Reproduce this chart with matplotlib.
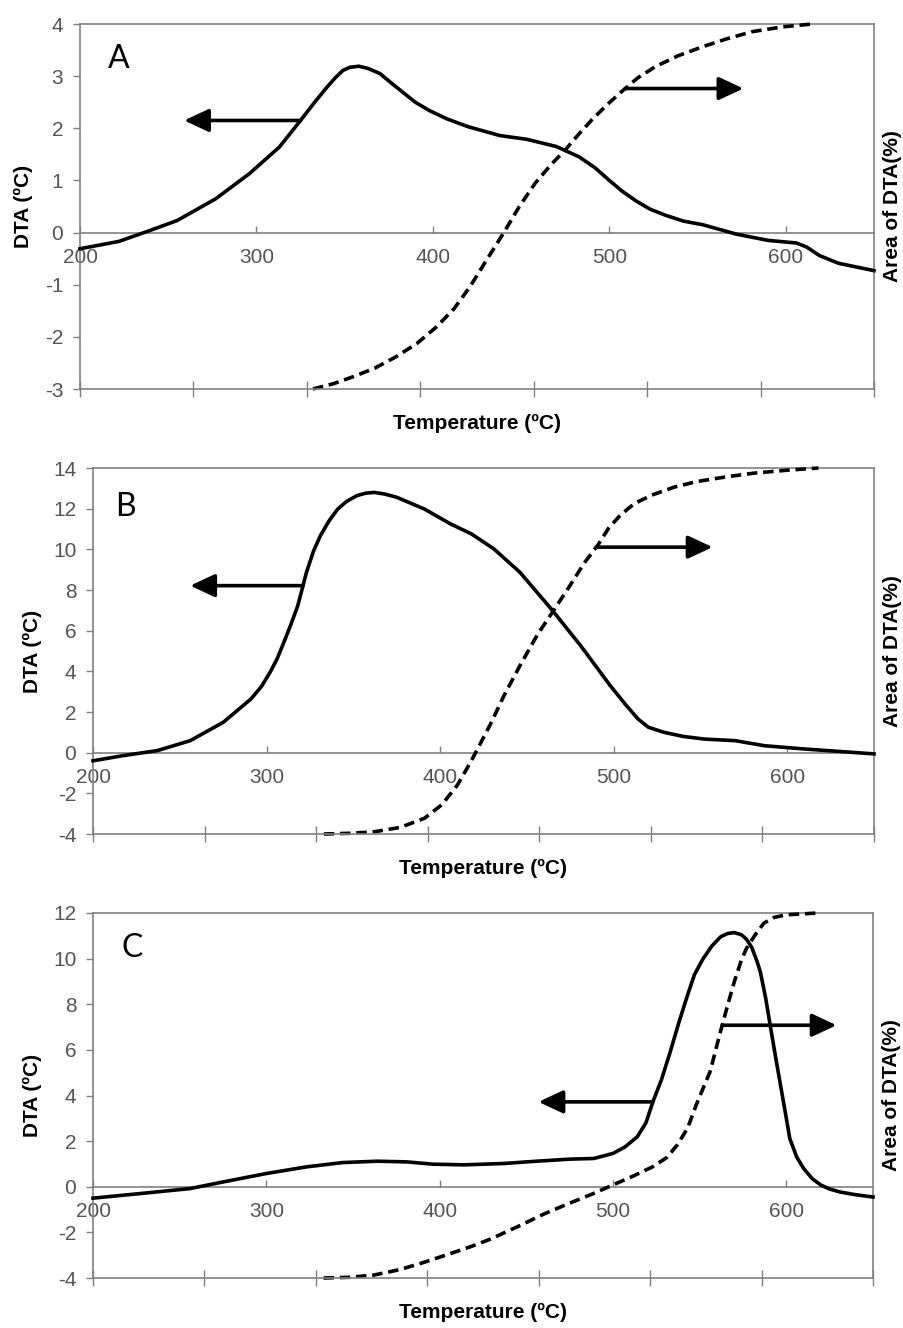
import numpy as np
import matplotlib
matplotlib.use("Agg")
import matplotlib.pyplot as plt

plt.rcParams['font.family'] = ['Liberation Sans', 'DejaVu Sans']
plt.rcParams['axes.unicode_minus'] = False

# =========================
# DATA
# =========================
# Panel A
temp_a = [200, 222, 238, 255, 277, 296, 313, 325, 333, 340, 345, 349, 353, 358, 363, 370, 376,
          383, 390, 398, 408, 420, 438, 453, 470, 483, 492, 500, 507, 515, 523, 532, 542, 553,
          572, 590, 606, 612, 619, 630, 650]
dta_a = [-0.31, -0.17, 0.02, 0.23, 0.65, 1.13, 1.64, 2.15, 2.50, 2.79, 2.98, 3.11, 3.17, 3.19, 3.15,
         3.05, 2.88, 2.69, 2.50, 2.34, 2.18, 2.03, 1.86, 1.79, 1.65, 1.45, 1.24, 1.00, 0.80, 0.61,
         0.45, 0.33, 0.22, 0.15, -0.03, -0.15, -0.20, -0.28, -0.44, -0.59, -0.73]
area_temp_a = [332, 344, 355, 367, 379, 391, 402, 412, 421, 430, 440, 449, 458, 467, 475, 483,
               490, 499, 507, 516, 526, 539, 553, 567, 581, 598, 615]
area_a = [0, 1.5, 3.4, 5.7, 8.8, 12.5, 17, 22, 28, 35, 42.7, 50, 56.4, 61.5, 65.5, 70,
          73.7, 78, 81.5, 85.2, 88.3, 91.3, 93.8, 96, 97.9, 99.2, 100]

# Panel B
temp_b = [200, 217, 237, 256, 275, 291, 297, 302, 306, 310, 314, 318, 323, 327, 331, 336, 341,
          346, 352, 357, 362, 368, 375, 391, 406, 418, 431, 446, 464, 481, 498, 507, 514, 520,
          529, 540, 552, 570, 587, 610, 650]
dta_b = [-0.40, -0.15, 0.10, 0.59, 1.49, 2.64, 3.25, 3.95, 4.60, 5.43, 6.30, 7.23, 8.87, 9.90,
         10.67, 11.40, 11.98, 12.35, 12.64, 12.76, 12.80, 12.72, 12.56, 11.98, 11.25, 10.76,
         10.02, 8.87, 7.07, 5.26, 3.30, 2.35, 1.66, 1.25, 1.00, 0.80, 0.67, 0.59, 0.34, 0.18, -0.06]
area_temp_b = [333, 348, 362, 377, 391, 401, 410, 418, 429, 437, 446, 456, 466, 475, 483, 491,
               497, 504, 512, 522, 535, 548, 565, 581, 600, 618]
area_b = [0, 0.2, 0.6, 1.8, 4.3, 8, 13.4, 20, 30, 38, 46, 54.4, 61.5, 68, 74, 79,
          83.5, 87.2, 90.3, 92.6, 94.8, 96.3, 97.6, 98.6, 99.4, 100]

# Panel C
temp_c = [200, 227, 256, 275, 300, 323, 344, 364, 381, 396, 414, 437, 456, 475, 489, 500, 507,
          514, 519, 523, 528, 533, 538, 543, 547, 552, 557, 562, 566, 570, 574, 577, 580, 583,
          585, 588, 591, 594, 597, 600, 602, 606, 610, 615, 620, 625, 631, 640, 650]
dta_c = [-0.50, -0.30, -0.08, 0.21, 0.58, 0.87, 1.06, 1.12, 1.09, 0.99, 0.96, 1.02, 1.12, 1.21,
         1.24, 1.46, 1.75, 2.19, 2.80, 3.72, 4.70, 5.91, 7.20, 8.40, 9.30, 10.00, 10.55, 10.95,
         11.10, 11.14, 11.05, 10.85, 10.50, 9.90, 9.42, 8.30, 6.94, 5.60, 4.30, 3.00, 2.11, 1.30,
         0.80, 0.35, 0.07, -0.10, -0.23, -0.35, -0.45]
area_temp_c = [333, 348, 362, 377, 391, 405, 418, 429, 446, 460, 475, 488, 500, 512, 523, 531,
               537, 543, 548, 552, 556, 559, 562, 566, 570, 574, 577, 582, 587, 593, 600, 618]
area_c = [0, 0.2, 0.8, 2.3, 4.3, 6.5, 8.6, 10.6, 14.3, 17.5, 20.5, 23, 25.5, 28, 30.5, 33,
          36.4, 41, 47.4, 52, 56.5, 62, 67.5, 74.5, 81.2, 87, 90.3, 94, 97.2, 98.8, 99.5, 100]

# arrows: (tail temperature, head temperature)
left_arrows = [(325, 259), (321, 256), (523, 457)]
right_arrows = [(509, 576), (490, 557), (563, 629)]

letters = ["A", "B", "C"]
x_ticks = [200, 300, 400, 500, 600]

# =========================
# FIGURE
# =========================
W, H = 904, 1328
fig = plt.figure(figsize=(W / 100, H / 100), dpi=100)
fig.patch.set_facecolor("white")

SPINE = "#808080"
TICKLAB = "#555555"

# panel boxes in pixels: left, top, right, bottom
boxes = [(80, 24, 874, 389), (93, 468, 874, 834), (93, 913, 873, 1278)]
ylims = [(-3, 4), (-4, 14), (-4, 12)]
ysteps = [1, 2, 2]
letter_pos = [(0.049, 0.905), (0.042, 0.893), (0.050, 0.903)]
ylab_off = [57, 61, 61]

panels = [(temp_a, dta_a, area_temp_a, area_a),
          (temp_b, dta_b, area_temp_b, area_b),
          (temp_c, dta_c, area_temp_c, area_c)]

arrow_style = dict(arrowstyle="-|>,head_length=0.75,head_width=0.35",
                   lw=2.6, color="black", shrinkA=0, shrinkB=0, mutation_scale=20)

for i, (temp, dta, atemp, apct) in enumerate(panels):
    l, t, r, b = boxes[i]
    wpx, hpx = r - l, b - t
    rect = [l / W, 1 - b / H, wpx / W, hpx / H]

    # primary axis: DTA
    ax = fig.add_axes(rect, facecolor="none")
    ax.plot(temp, dta, color="black", lw=2.6, clip_on=False, zorder=3,
            solid_joinstyle="round")
    ax.set_xlim(200, 650)
    ax.set_ylim(*ylims[i])
    ax.set_xticks(x_ticks)
    ax.set_yticks(np.arange(ylims[i][0], ylims[i][1] + 0.01, ysteps[i]))
    ax.spines["bottom"].set_position(("data", 0))
    for s in ax.spines.values():
        s.set_color(SPINE)
        s.set_linewidth(1.2)
    ax.tick_params(axis="x", direction="in", length=5, width=1, pad=11,
                   color=SPINE, labelcolor=TICKLAB, labelsize=15)
    ax.tick_params(axis="y", direction="out", length=5, width=1, pad=7,
                   color=SPINE, labelcolor=TICKLAB, labelsize=15)
    ax.set_ylabel("DTA (ºC)", fontsize=15, fontweight="bold")
    ax.yaxis.set_label_coords(-ylab_off[i] / wpx, 0.5)
    ax.yaxis.label.set_verticalalignment("center")

    ax.text(letter_pos[i][0], letter_pos[i][1], letters[i], transform=ax.transAxes,
            fontsize=23, family="Lato", ha="center", va="center")

    tail, head = left_arrows[i]
    y = np.interp(tail, temp, dta)
    ax.annotate("", xy=(head, y), xytext=(tail, y), arrowprops=arrow_style)

    # secondary axis: cumulative area
    ax2 = fig.add_axes(rect, facecolor="none")
    ax2.plot(atemp, apct, color="black", lw=2.6, ls=(0, (2.9, 1.6)), clip_on=False)
    ax2.set_xlim(200, 650)
    ax2.set_ylim(0, 100)
    ax2.set_xticks(np.linspace(200, 650, 8))
    ax2.set_yticks([])
    ax2.tick_params(axis="x", direction="inout", length=12, width=1, color=SPINE,
                    labelbottom=False)
    for name, s in ax2.spines.items():
        s.set_visible(name == "bottom")
        s.set_color(SPINE)
        s.set_linewidth(1.2)
    ax2.set_xlabel("Temperature (ºC)", fontsize=15, fontweight="bold")
    ax2.xaxis.set_label_coords(0.5, -34 / hpx)
    ax2.xaxis.label.set_verticalalignment("center")
    ax2.yaxis.set_label_position("right")
    ax2.set_ylabel("Area of DTA(%)", fontsize=15, fontweight="bold")
    ax2.yaxis.set_label_coords(1 + 19 / wpx, 0.5)
    ax2.yaxis.label.set_verticalalignment("center")

    tail, head = right_arrows[i]
    y = np.interp(tail, atemp, apct)
    ax2.annotate("", xy=(head, y), xytext=(tail, y), arrowprops=arrow_style)

fig.savefig("out.png", dpi=100)
